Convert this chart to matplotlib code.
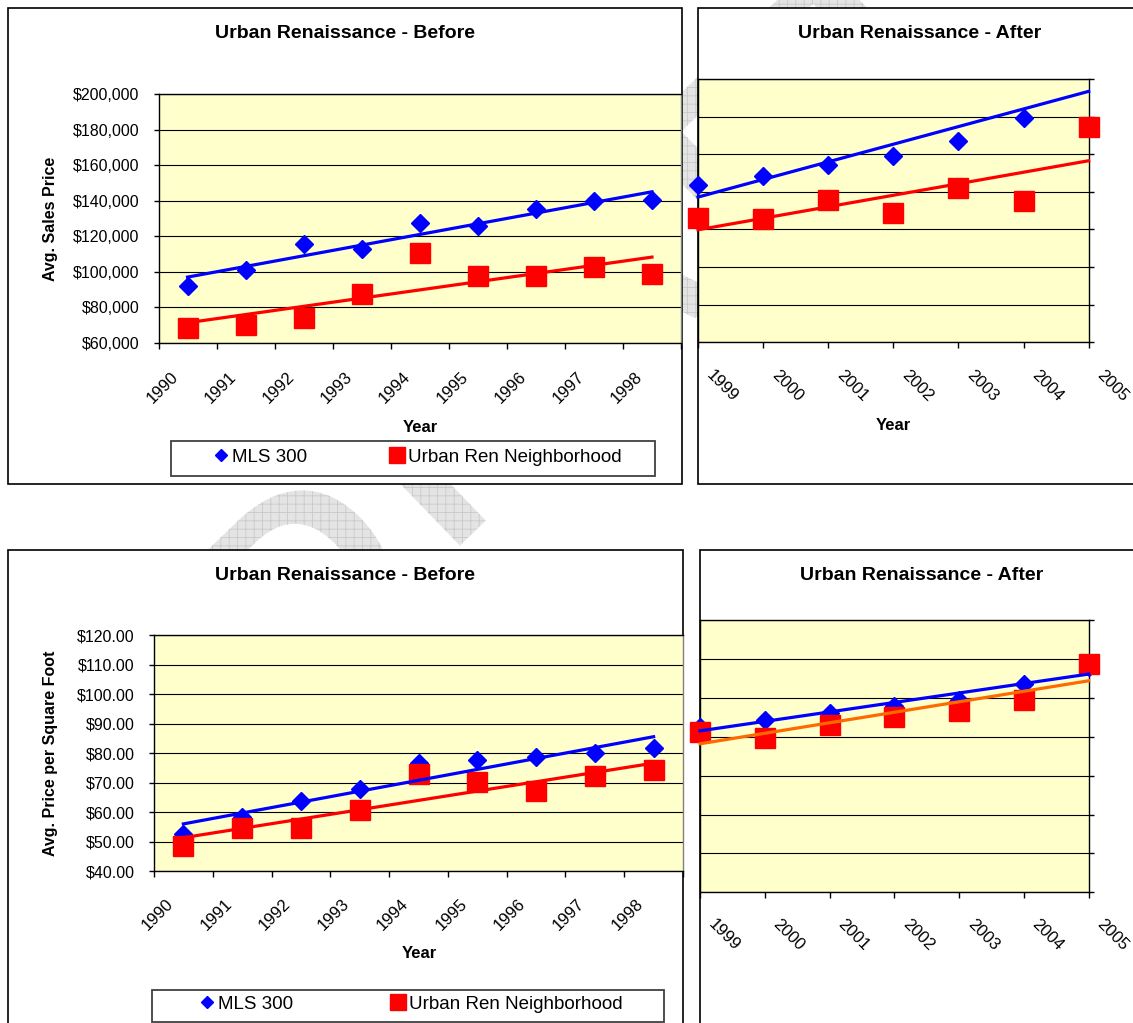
import numpy as np
import matplotlib
matplotlib.use('Agg')
import matplotlib.pyplot as plt
from matplotlib.patches import Rectangle, PathPatch
from matplotlib.lines import Line2D
from matplotlib.path import Path
from matplotlib.textpath import TextPath, text_to_path
from matplotlib.font_manager import FontProperties
from matplotlib.transforms import Affine2D, ScaledTranslation

# ---- data ----
years_before = ['1990', '1991', '1992', '1993', '1994', '1995', '1996', '1997', '1998']
years_after = ['1999', '2000', '2001', '2002', '2003', '2004', '2005']

mls_price_before = [92200, 101000, 115500, 112800, 127300, 125600, 135100, 139600, 140200]
urban_price_before = [68600, 70000, 74200, 87700, 110800, 97800, 97800, 102900, 98800]
mls_price_after = [143500, 148300, 154200, 158900, 167100, 179300, 206000]
urban_price_after = [125900, 125300, 135700, 128800, 142100, 135200, 174300]

mls_sqft_before = [52.5, 58.3, 63.9, 67.9, 76.8, 77.7, 78.6, 80.2, 81.7]
urban_sqft_before = [48.7, 54.8, 54.8, 60.8, 72.9, 70.4, 67.3, 72.3, 74.3]
mls_sqft_after = [82.6, 84.3, 86.1, 87.9, 89.5, 93.6, 98.0]
urban_sqft_after = [81.3, 79.7, 83.1, 85.2, 86.7, 89.5, 98.8]

series_names = ['MLS 300', 'Urban Ren Neighborhood']

BLUE = '#0000FF'
RED = '#FF0000'
ORANGE = '#FF6A00'
PLOT_BG = '#FFFFCC'

plt.rcParams['font.family'] = ['Liberation Sans', 'DejaVu Sans']
plt.rcParams['hatch.linewidth'] = 0.6

W, H = 1133, 1023
fig = plt.figure(figsize=(W / 100, H / 100), dpi=100)


def box(x0, y0, x1, y1):
    # pixel box (top-left origin) -> figure fraction rect
    return [x0 / W, 1 - y1 / H, (x1 - x0) / W, (y1 - y0) / H]


def frame(x0, y0, x1, y1, ec='black', lw=1.2, z=-1):
    r = box(x0, y0, x1, y1)
    fig.add_artist(Rectangle((r[0], r[1]), r[2], r[3], transform=fig.transFigure,
                             facecolor='white', edgecolor=ec, lw=lw, zorder=z))


def spaced_text_path(s, size, track, prop):
    # letter-spaced outline, units in inches
    fp_sized = prop.copy()
    fp_sized.set_size(size)
    x, parts = 0.0, []
    for ch in s:
        parts.append(TextPath((x, 0), ch, size=size, prop=prop))
        x += text_to_path.get_text_width_height_descent(ch, fp_sized, ismath=False)[0] + track
    return Path.make_compound_path(*parts)


# DRAFT watermark behind the charts
wm_font = FontProperties(family='Liberation Sans', weight='bold')
wm_path = spaced_text_path('DRAFT', 2.5, 0.25, wm_font)
wm_tr = Affine2D().rotate_deg(44).translate(3.00, 3.23) + fig.dpi_scale_trans
fig.add_artist(PathPatch(wm_path, transform=wm_tr, facecolor='#E4E4E4', edgecolor='#C9C9C9',
                         lw=0, hatch='++', zorder=-2))

frame(8, 8, 682, 484)
frame(698, 8, 1160, 484)
frame(8, 550, 683, 1060)
frame(700, 550, 1160, 1060)


def trend(ax, x, y, color):
    k, b = np.polyfit(x, y, 1)
    xs = np.array([x[0], x[-1]])
    ax.plot(xs, k * xs + b, color=color, lw=2.3, zorder=5, clip_on=False)


def setup(ax, ylim, step, fmt, ncat, between):
    ax.set_facecolor(PLOT_BG)
    ax.set_ylim(*ylim)
    ax.set_yticks(np.arange(ylim[0], ylim[1] + step / 2, step))
    ax.yaxis.grid(True, color='black', lw=0.8)
    ax.set_axisbelow(True)
    for s in ax.spines.values():
        s.set_color('black')
        s.set_linewidth(1.0)
    if between:
        ax.set_xlim(0, ncat)
        ax.set_xticks(np.arange(ncat + 1))
        ax.spines['right'].set_color('#808080')
        ax.yaxis.set_major_formatter(fmt)
        ax.tick_params(axis='y', direction='out', length=3.3, width=1, pad=10.5,
                       labelsize=11.5)
    else:
        ax.set_xlim(0, ncat - 1)
        ax.set_xticks(np.arange(ncat))
        ax.yaxis.tick_right()
        ax.tick_params(axis='y', direction='out', length=3.6, width=1, labelright=False)
    ax.tick_params(axis='x', direction='out', length=4.3, width=1, labelbottom=False)


def year_labels(ax, pos, labels, rot, dx, dy):
    tr = ax.get_xaxis_transform() + ScaledTranslation(dx / 100, dy / 100, fig.dpi_scale_trans)
    ha = 'right' if rot > 0 else 'left'
    for p, lab in zip(pos, labels):
        ax.text(p, 0, lab, transform=tr, rotation=rot, ha=ha, va='top',
                rotation_mode='anchor', fontsize=12, clip_on=False)


def draw_series(ax, x, mls, urban, ymax, urban_trend_color):
    mls = np.asarray(mls, dtype=float)
    urban = np.asarray(urban, dtype=float)
    # points above the axis maximum are not shown, but still feed the trend
    vis = mls <= ymax
    ax.plot(x[vis], mls[vis], ls='none', marker='D', ms=9.5, color=BLUE, zorder=3, clip_on=False)
    ax.plot(x, urban, ls='none', marker='s', ms=14, color=RED, zorder=4, clip_on=False)
    trend(ax, x, mls, BLUE)
    trend(ax, x, urban, urban_trend_color)


def legend(ax, x_left, y_mid, colspace, frame_box):
    frame(*frame_box, ec='#404040', lw=1.3, z=-0.5)
    handles = [Line2D([], [], ls='none', marker='D', ms=6.6, color=BLUE),
               Line2D([], [], ls='none', marker='s', ms=12, color=RED)]
    ax.legend(handles, series_names, ncol=2, frameon=False, loc='center left',
              bbox_to_anchor=(x_left / W, 1 - y_mid / H), bbox_transform=fig.transFigure,
              borderpad=0, borderaxespad=0, handlelength=0.8, handletextpad=0.2,
              columnspacing=colspace, fontsize=13.5)


price_fmt = matplotlib.ticker.FuncFormatter(lambda v, _: '${:,.0f}'.format(v))
sqft_fmt = matplotlib.ticker.FuncFormatter(lambda v, _: '${:.2f}'.format(v))

xb = np.arange(len(years_before)) + 0.5
xa = np.arange(len(years_after), dtype=float)

# ---- average sales price, before ----
ax1 = fig.add_axes(box(158.5, 94, 681, 343))
setup(ax1, (60000, 200000), 20000, price_fmt, len(years_before), True)
draw_series(ax1, xb, mls_price_before, urban_price_before, 200000, RED)
year_labels(ax1, xb, years_before, 45, -17, -26)
ax1.set_ylabel('Avg. Sales Price', fontsize=11.5, fontweight='bold')
ax1.yaxis.set_label_coords((58 - 158.5) / (681 - 158.5), 0.5)
fig.text(345 / W, 1 - 34 / H, 'Urban Renaissance - Before', ha='center', va='center',
         fontsize=14, fontweight='bold')
fig.text(420 / W, 1 - 427 / H, 'Year', ha='center', va='center', fontsize=12, fontweight='bold')
legend(ax1, 213.5, 457, 4.36, (171, 441, 655, 476))

# ---- average sales price, after ----
ax2 = fig.add_axes(box(698, 79, 1088.7, 342.3))
setup(ax2, (60000, 200000), 20000, None, len(years_after), False)
draw_series(ax2, xa, mls_price_after, urban_price_after, 200000, RED)
year_labels(ax2, xa, years_after, -45, 16, -25)
fig.text(920 / W, 1 - 34 / H, 'Urban Renaissance - After', ha='center', va='center',
         fontsize=14, fontweight='bold')
fig.text(893 / W, 1 - 425 / H, 'Year', ha='center', va='center', fontsize=12, fontweight='bold')

# ---- price per square foot, before ----
ax3 = fig.add_axes(box(154, 635.3, 683, 871.3))
setup(ax3, (40, 120), 10, sqft_fmt, len(years_before), True)
draw_series(ax3, xb, mls_sqft_before, urban_sqft_before, 120, RED)
year_labels(ax3, xb, years_before, 45, -18, -25)
ax3.set_ylabel('Avg. Price per Square Foot', fontsize=11.5, fontweight='bold')
ax3.yaxis.set_label_coords((58 - 154) / (683 - 154), 0.5)
fig.text(345 / W, 1 - 576 / H, 'Urban Renaissance - Before', ha='center', va='center',
         fontsize=14, fontweight='bold')
fig.text(419 / W, 1 - 954 / H, 'Year', ha='center', va='center', fontsize=12, fontweight='bold')
legend(ax3, 199, 1004, 5.2, (152, 990, 664, 1022))

# ---- price per square foot, after ----
ax4 = fig.add_axes(box(700, 620.3, 1088.7, 892.3))
setup(ax4, (40, 110), 10, None, len(years_after), False)
draw_series(ax4, xa, mls_sqft_after, urban_sqft_after, 110, ORANGE)
year_labels(ax4, xa, years_after, -45, 16, -24)
fig.text(922 / W, 1 - 576 / H, 'Urban Renaissance - After', ha='center', va='center',
         fontsize=14, fontweight='bold')

fig.savefig('out.png', dpi=100)
